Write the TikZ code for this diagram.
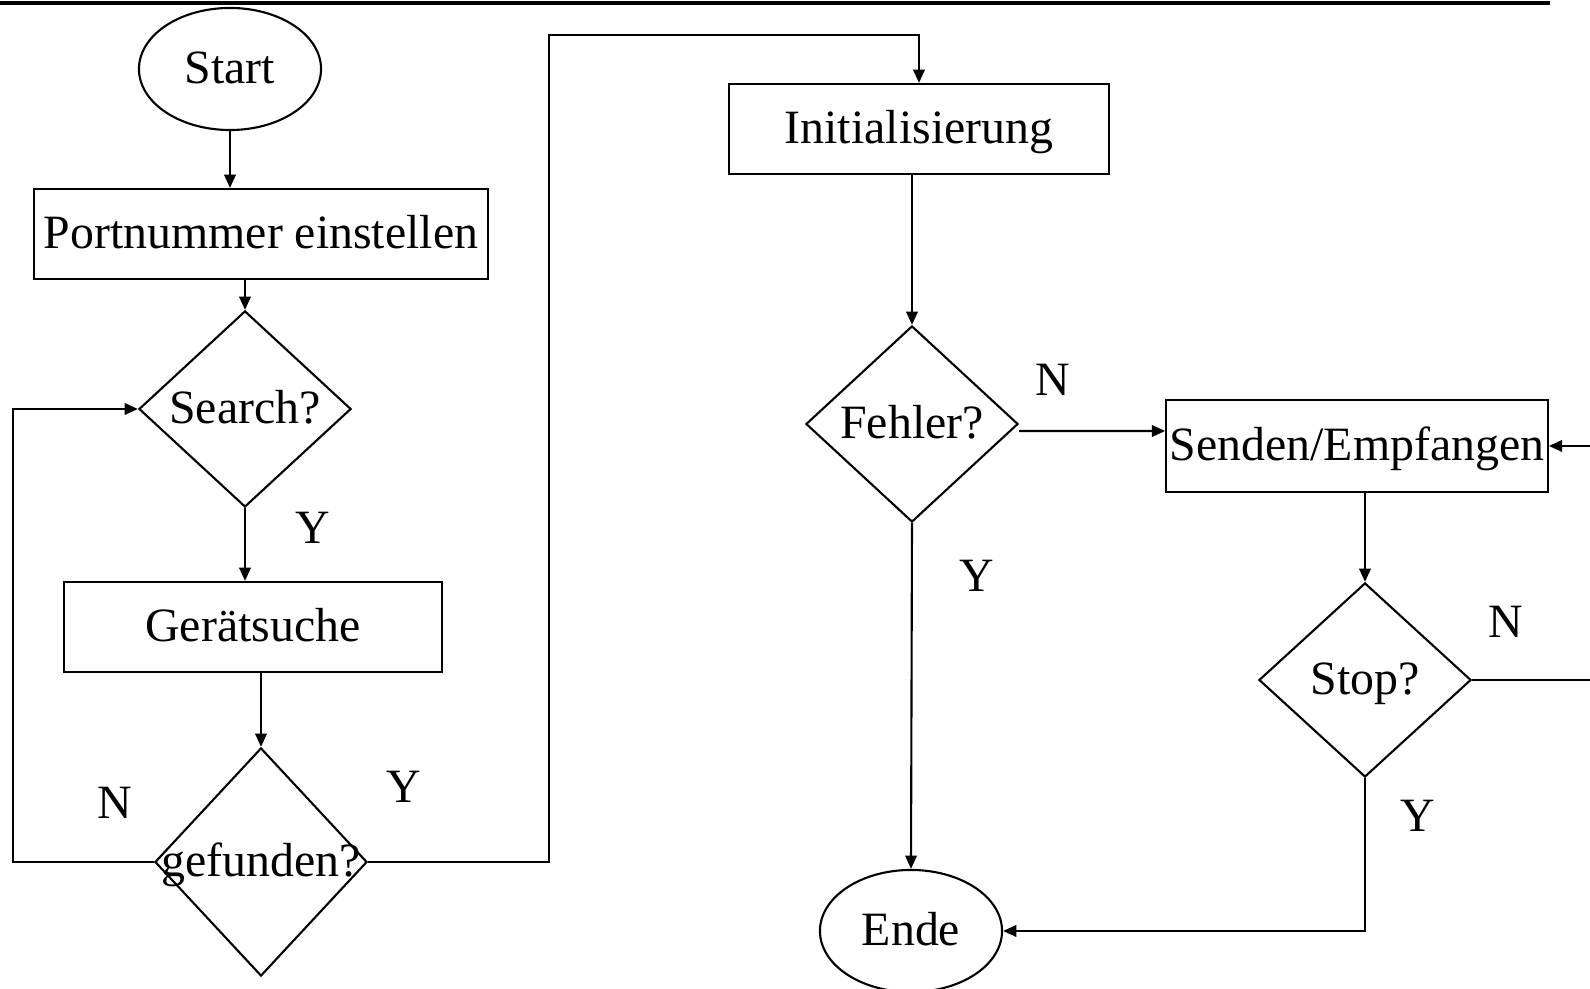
\documentclass[tikz,border=0pt]{standalone}
\usepackage{fontspec}
\setmainfont{Liberation Serif}
\usetikzlibrary{shapes.geometric,arrows.meta}

\tikzset{
  base/.style={font=\fontsize{13.6pt}{16pt}\selectfont, line width=0.6pt},
  terminal/.style={base, draw, ellipse, minimum width=1.82cm, minimum height=1.22cm, inner sep=0pt, text height=0.9em, text depth=0.1em},
  process/.style={base, draw, rectangle, minimum height=0.9cm, inner sep=1pt, text height=0.9em, text depth=0.1em},
  decision/.style={base, draw, diamond, minimum width=2.12cm, inner sep=0pt},
  answer/.style={font=\fontsize{13.6pt}{16pt}\selectfont, inner sep=0pt, text height=0.9em, text depth=0.1em},
  flow/.style={line width=0.6pt, -{Triangle[length=3.8pt,width=3.3pt]}},
}

\begin{document}
\begin{tikzpicture}[x=0.01cm,y=-0.01cm]
    \useasboundingbox (0,0) rectangle (1590,989);
    \draw[line width=1pt] (0,3) -- (1550,3);

    % left column
    \node[terminal] (start) at (230,69) {Start};
    \node[process, minimum width=4.54cm] (port) at (261,234) {Portnummer einstellen};
    \node[decision, minimum height=1.96cm, label={[answer]center:Search?}] (search) at (245,409) {};
    \node[process, minimum width=3.78cm] (suche) at (253,627) {Gerätsuche};
    \node[decision, minimum height=2.28cm, label={[answer]center:gefunden?}] (gef) at (261,862) {};

    % middle column
    \node[process, minimum width=3.79cm] (init) at (919,129) {Initialisierung};
    \node[decision, minimum height=1.96cm, label={[answer]center:Fehler?}] (fehler) at (912,424) {};
    \node[terminal] (ende) at (911,931) {Ende};

    % right column
    \node[process, minimum width=3.78cm, minimum height=0.92cm] (send) at (1357,446) {Senden/Empfangen};
    \node[decision, minimum height=1.94cm, label={[answer]center:Stop?}] (stop) at (1365,680) {};
    \coordinate (rin) at (1590,446);
    \coordinate (rout) at (1590,680);

    % answers
    \node[answer] (y1) at (313,529) {Y};
    \node[answer] (n1) at (115,804) {N};
    \node[answer] (y2) at (404,788) {Y};
    \node[answer] (n2) at (1053,381) {N};
    \node[answer] (y3) at (977,577) {Y};
    \node[answer] (n3) at (1506,623) {N};
    \node[answer] (y4) at (1418,817) {Y};

    % connectors
    \draw[flow] (start.south) -- (start.south |- port.north);
    \draw[flow] (search |- port.south) -- (search.north);
    \draw[flow] (search.south) -- (search.south |- suche.north);
    \draw[flow] (gef |- suche.south) -- (gef.north);
    \draw[flow] (gef.west) -- (13,862) |- (search.west);
    \draw[flow] (gef.east) -| (549,35) -| (init.north);
    \draw[flow] (fehler |- init.south) -- (fehler.north);
    \draw[flow] ([yshift=-0.07cm]fehler.east) -- ([yshift=0.15cm]send.west);
    \draw[flow] (fehler.south) -- (ende.north);
    \draw[flow] (rin) -- (send.east);
    \draw[flow] (stop |- send.south) -- (stop.north);
    \draw[line width=0.6pt] (stop.east) -- (rout);
    \draw[flow] (stop.south) |- (ende.east);
\end{tikzpicture}
\end{document}
